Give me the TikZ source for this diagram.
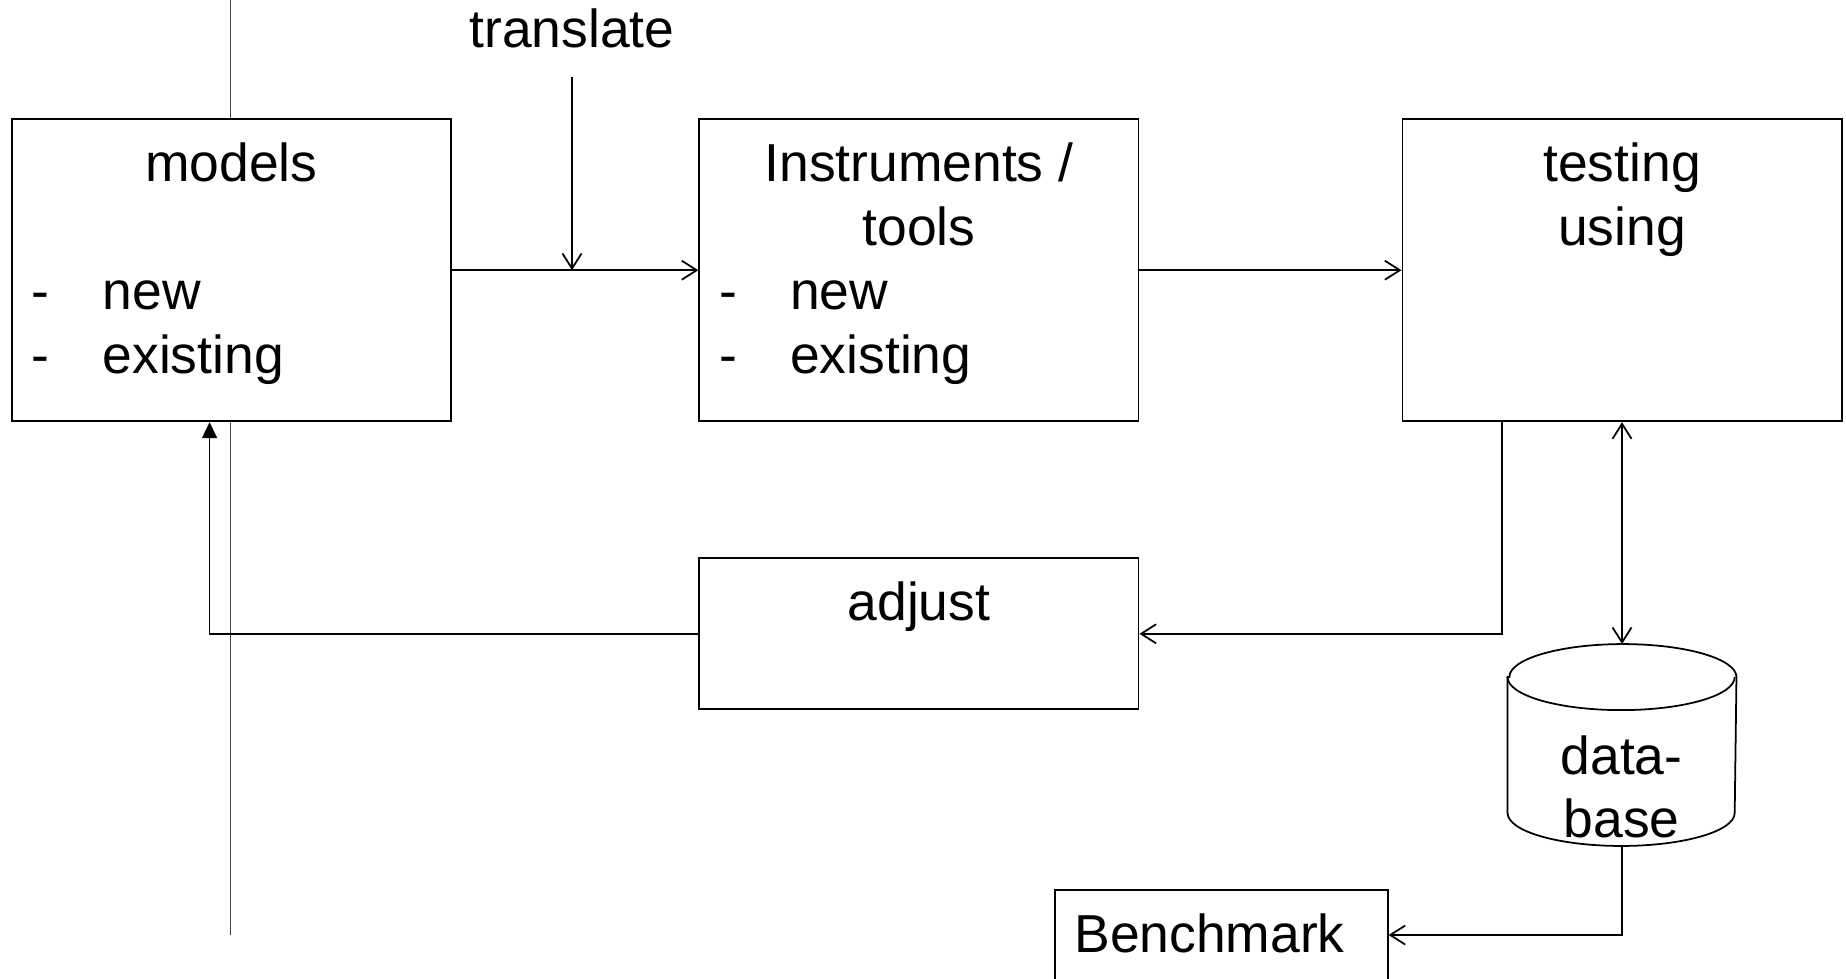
\documentclass[tikz,border=0pt]{standalone}
\usepackage{fontspec}
\setmainfont{Liberation Sans}
\usetikzlibrary{arrows.meta}
\newcommand{\boxfont}{\fontsize{15.2pt}{18.1pt}\selectfont}
\newcommand{\dashitem}{\makebox[0.71cm][l]{-}}
\begin{document}
\begin{tikzpicture}[x=0.01cm, y=-0.01cm, line width=0.5pt,
            box/.style={draw, rectangle, fill=white, inner sep=0pt, minimum width=4.39cm, minimum height=3.02cm},
            txt/.style={inner sep=0pt, anchor=north, font=\boxfont},
            arr/.style={-{Straight Barb[length=1.5mm, width=1.9mm]}},
            darr/.style={{Straight Barb[length=1.5mm, width=1.9mm]}-{Straight Barb[length=1.5mm, width=1.9mm]}},
            farr/.style={-{Triangle[length=1.6mm, width=1.5mm]}}]
            \path[use as bounding box, fill=white] (0,0) rectangle (1846,978);
            \clip (0,0) rectangle (1846,978);
            \coordinate (guidetop) at (230.3,0);
            \coordinate (guidebot) at (230.3,935);
            \draw[line width=0.3pt, black!75] (guidetop) -- (guidebot);

            \node[box] (models) at (231.3,270.2) {};
            \node[box] (instr) at (918.9,270.2) {};
            \node[box] (testing) at (1622,270.2) {};
            \node[box, minimum height=1.51cm] (adjust) at (918.9,633.8) {};
            \node[box, minimum width=3.326cm, minimum height=0.9cm] (bench) at (1221.3,935) {};
            \node[inner sep=0pt, minimum width=2.27cm, minimum height=2cm] (db) at (1622,745) {};
            \draw[fill=white] ([yshift=-0.33cm]db.north west) -- ([yshift=0.33cm]db.south west)
                arc[start angle=180, end angle=360, x radius=1.135cm, y radius=0.33cm]
                -- ([yshift=-0.33cm]db.north east)
                arc[start angle=0, end angle=180, x radius=1.135cm, y radius=0.33cm] -- cycle;
            \draw ([yshift=-0.33cm]db.north west) arc[start angle=180, end angle=360, x radius=1.135cm, y radius=0.33cm];

            \node[txt] (translate) at (572,2.1) {\strut translate};
            \node[txt] (modelstitle) at (231.3,136.4) {\strut models};
            \node[txt, anchor=north west, align=left] (modelslist) at (30.7,264.1) {\strut\dashitem new\\\dashitem existing};
            \node[txt, align=center] (instrtitle) at (918.9,136.4) {\strut Instruments /\\tools};
            \node[txt, anchor=north west, align=left] (instrlist) at (718.3,264.1) {\strut\dashitem new\\\dashitem existing};
            \node[txt, align=center] (testingtitle) at (1622,136.4) {\strut testing\\using};
            \node[txt] (adjusttitle) at (918.9,575.4) {\strut adjust};
            \node[txt, align=center] (dbtitle) at (1621.5,728.7) {\strut data-\\base};
            \node[txt, anchor=north west] (benchtitle) at (1073.5,907.1) {\strut Benchmark};

            \draw[arr] ([yshift=-0.09cm]translate.south) -- (translate.south |- models.east);
            \draw[arr] (models) -- (instr);
            \draw[arr] (instr) -- (testing);
            \draw[arr] ([xshift=-1.203cm]testing.south) |- (adjust.east);
            \draw[farr] (adjust.west) -| ([xshift=-0.217cm]models.south);
            \draw[darr] (testing.south) -- (db.north);
            \draw[arr] (db.south) |- (bench.east);
        \end{tikzpicture}
\end{document}
